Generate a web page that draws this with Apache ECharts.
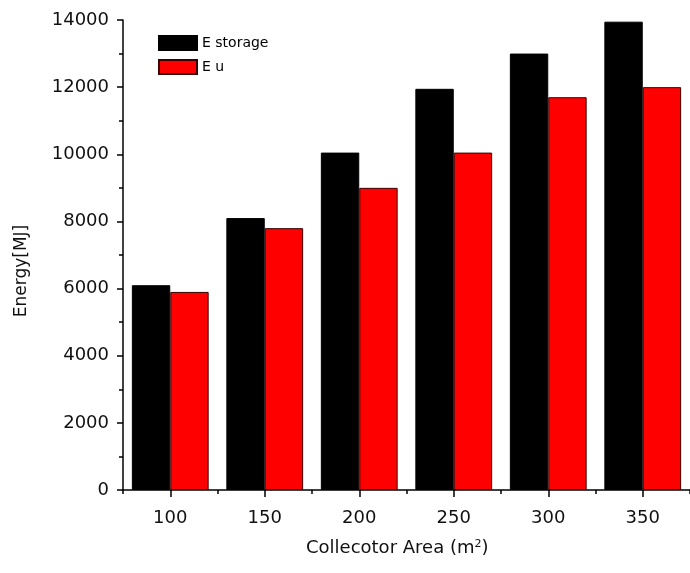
<!DOCTYPE html>
<html><head><meta charset="utf-8">
<script src="https://cdn.jsdelivr.net/npm/echarts@6/dist/echarts.min.js"></script>
<style>html,body{margin:0;padding:0;background:#fff}#c{width:690px;height:573px}</style>
</head><body><div id="c"></div>
<script>
const areas = [100, 150, 200, 250, 300, 350];
const eStorage = [6100, 8100, 10050, 11950, 13000, 13950];
const eU = [5900, 7800, 9000, 10050, 11700, 12000];
const majorX = [100, 150, 200, 250, 300, 350];
const minorX = [75, 125, 175, 225, 275, 325, 375];
const seriesNames = ['E storage', 'E u'];

const font = 'DejaVu Sans';
const chart = echarts.init(document.getElementById('c'));
chart.setOption({
  animation: false,
  backgroundColor: '#fff',
  grid: {left: 123, top: 20, width: 576, height: 470},
  legend: {
    orient: 'vertical', left: 153, top: 30, itemWidth: 38, itemHeight: 14, itemGap: 8,
    icon: 'rect',
    textStyle: {fontFamily: font, fontSize: 14, color: '#000'},
    data: seriesNames
  },
  xAxis: [{
    type: 'value', min: 75, max: 375, interval: 25,
    axisLine: {show: true, lineStyle: {color: '#000', width: 1.5}},
    axisTick: {show: true, customValues: majorX, length: 7, lineStyle: {color: '#000', width: 1.5}},
    axisLabel: {customValues: majorX, margin: 19, fontFamily: font, fontSize: 18, color: '#111'},
    splitLine: {show: false}
  }, {
    type: 'value', min: 75, max: 375, interval: 25, position: 'bottom',
    axisLine: {show: false},
    axisTick: {show: true, customValues: minorX, length: 4, lineStyle: {color: '#000', width: 1.5}},
    axisLabel: {show: false},
    splitLine: {show: false}
  }],
  yAxis: {
    type: 'value', min: 0, max: 14000, interval: 2000,
    axisLine: {show: true, lineStyle: {color: '#000', width: 1.5}},
    axisTick: {show: true, length: 6, lineStyle: {color: '#000', width: 1.5}},
    minorTick: {show: true, splitNumber: 2, length: 4, lineStyle: {color: '#000', width: 1.5}},
    axisLabel: {margin: 14, fontFamily: font, fontSize: 18, color: '#111', formatter: v => String(v)},
    splitLine: {show: false}
  },
  graphic: [{
    type: 'text', left: 306, top: 539,
    style: {
      text: 'Collecotor Area (m{sup|2})',
      font: '18px "DejaVu Sans"', fill: '#111',
      rich: {sup: {fontSize: 11, verticalAlign: 'top', padding: [0, 0, 8, 0], fontFamily: font}}
    }
  }, {
    type: 'text', x: 22, y: 271, rotation: Math.PI / 2,
    style: {
      text: 'Energy[MJ]', font: '17px "DejaVu Sans"', fill: '#111',
      align: 'center', verticalAlign: 'middle'
    }
  }],
  series: [{
    name: seriesNames[0], type: 'bar', barWidth: 38.4, barGap: '0%',
    itemStyle: {color: '#000', borderColor: '#000', borderWidth: 1},
    data: areas.map((a, i) => [a, eStorage[i]])
  }, {
    name: seriesNames[1], type: 'bar', barWidth: 38.4, barGap: '0%',
    itemStyle: {color: '#ff0000', borderColor: '#3a0000', borderWidth: 1},
    data: areas.map((a, i) => [a, eU[i]])
  }]
});
</script></body></html>
